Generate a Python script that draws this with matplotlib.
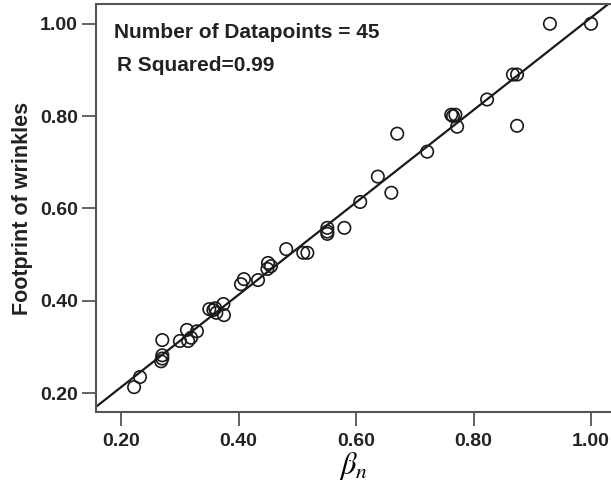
import matplotlib
matplotlib.use("Agg")
import matplotlib.pyplot as plt
import numpy as np

# beta_n vs footprint of wrinkles
beta_n = [0.222, 0.232, 0.270, 0.270, 0.268, 0.270, 0.300, 0.312, 0.314, 0.319,
          0.329, 0.350, 0.357, 0.360, 0.362, 0.374, 0.375, 0.404, 0.409, 0.433,
          0.449, 0.450, 0.455, 0.481, 0.510, 0.517, 0.551, 0.551, 0.551, 0.580,
          0.607, 0.637, 0.660, 0.670, 0.721, 0.762, 0.765, 0.769, 0.772, 0.823,
          0.867, 0.874, 0.874, 0.930, 1.000]
footprint = [0.213, 0.235, 0.315, 0.282, 0.269, 0.275, 0.313, 0.337, 0.313, 0.320,
             0.334, 0.382, 0.380, 0.384, 0.374, 0.393, 0.369, 0.436, 0.447, 0.445,
             0.469, 0.482, 0.475, 0.512, 0.504, 0.504, 0.558, 0.545, 0.550, 0.558,
             0.614, 0.669, 0.634, 0.762, 0.723, 0.803, 0.800, 0.803, 0.777, 0.836,
             0.890, 0.890, 0.779, 1.000, 1.000]
xticks = [0.20, 0.40, 0.60, 0.80, 1.00]
yticks = [0.20, 0.40, 0.60, 0.80, 1.00]

plt.rcParams["font.family"] = ["Liberation Sans", "DejaVu Sans"]
plt.rcParams["mathtext.fontset"] = "stix"

fig = plt.figure(figsize=(6.11, 4.90), dpi=100)
ax = fig.add_axes([0.157, 0.159, 0.843, 0.833])

x = np.array(beta_n)
y = np.array(footprint)
slope, icept = np.polyfit(x, y, 1)
xl = np.array([0.157, 1.034])
ax.plot(xl, slope * xl + icept, color="#1a1a1a", lw=1.6, zorder=2)
ax.scatter(x, y, s=80, facecolors="none", edgecolors="#1a1a1a", linewidths=1.2, zorder=3)

ax.set_xlim(0.157, 1.034)
ax.set_ylim(0.159, 1.043)
ax.set_xticks(xticks)
ax.set_yticks(yticks)
ax.set_xticklabels([f"{v:.2f}" for v in xticks], fontweight="bold", fontsize=14, color="#222222")
ax.set_yticklabels([f"{v:.2f}" for v in yticks], fontweight="bold", fontsize=14, color="#222222")
ax.tick_params(axis="both", length=10, width=1.3, color="#555555", direction="out")
ax.tick_params(axis="x", pad=5)
ax.tick_params(axis="y", pad=3)
for s in ["left", "bottom", "top"]:
    ax.spines[s].set_color("#555555")
    ax.spines[s].set_linewidth(1.5)
ax.spines["right"].set_visible(False)

ax.set_ylabel("Footprint of wrinkles", fontweight="bold", fontsize=15.5, labelpad=5, color="#222222")
ax.set_xlabel(r"$\beta_n$", fontsize=22, labelpad=0)

ax.text(0.035, 0.931, "Number of Datapoints = 45", transform=ax.transAxes,
        fontsize=15, fontweight="bold", color="#222222", va="center")
ax.text(0.040, 0.850, "R Squared=0.99", transform=ax.transAxes,
        fontsize=15, fontweight="bold", color="#222222", va="center")

fig.savefig("out.png", dpi=100)
